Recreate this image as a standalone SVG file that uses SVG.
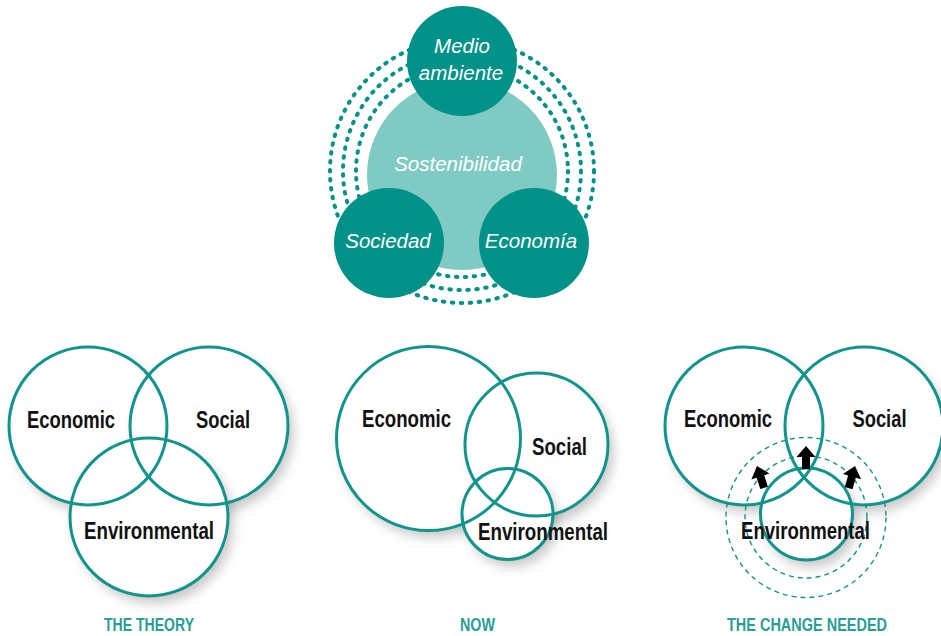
<svg xmlns="http://www.w3.org/2000/svg" xmlns:xlink="http://www.w3.org/1999/xlink" width="941" height="636" viewBox="0 0 941 636">
<defs>
<style>
.ring{fill:none;stroke:#009188;stroke-width:4;stroke-linecap:round;stroke-dasharray:1.5 7.5}
.dark{fill:#009188}
.wt{fill:#fff;font-family:"Liberation Sans",Arial,sans-serif;font-style:italic;font-size:20.5px;text-anchor:middle}
.c{fill:none;stroke:#12948c;stroke-width:3}
.sh{fill:#fff;filter:url(#shadow)}
.lb{fill:#111;font-family:"Liberation Sans",Arial,sans-serif;font-size:23px;font-weight:bold;text-anchor:middle}
.cap{fill:#2a9d96;font-family:"Liberation Sans",Arial,sans-serif;font-size:19px;font-weight:bold;text-anchor:middle}
.dash{fill:none;stroke:#12948c;stroke-width:1.4;stroke-dasharray:5 4}
</style>
<filter id="shadow" x="-30%" y="-30%" width="160%" height="160%">
<feDropShadow dx="5" dy="7" stdDeviation="6" flood-color="#000" flood-opacity="0.22"/>
</filter>
<path id="arr" d="M0,0 L9.5,11 L4,11 L4,23 L-4,23 L-4,11 L-9.5,11 Z" fill="#000"/>
</defs>
<rect width="941" height="636" fill="#fff"/>

<g id="top">
<g id="rings">
<circle class="ring" cx="462" cy="171" r="132"/>
<circle class="ring" cx="462" cy="171" r="119"/>
<circle class="ring" cx="462" cy="171" r="106"/>
</g>
<g id="sostenibilidad">
<circle cx="462" cy="175" r="95" fill="#80cac4"/>
<text class="wt" x="458" y="171">Sostenibilidad</text>
</g>
<g id="medio-ambiente">
<circle class="dark" cx="462" cy="61" r="55"/>
<text class="wt" x="462" y="53">Medio</text>
<text class="wt" x="461" y="80">ambiente</text>
</g>
<g id="sociedad">
<circle class="dark" cx="389" cy="243" r="55"/>
<text class="wt" x="388" y="248">Sociedad</text>
</g>
<g id="economia">
<circle class="dark" cx="534" cy="243" r="55"/>
<text class="wt" x="531" y="248">Economía</text>
</g>
</g>

<g id="theory">
<g id="theory-shadow">
<circle class="sh" cx="88" cy="426" r="79"/>
<circle class="sh" cx="209" cy="426" r="79"/>
<circle class="sh" cx="149" cy="517" r="79"/>
</g>
<g id="theory-economic"><circle class="c" cx="88" cy="426" r="79"/><text class="lb" x="71" y="428" textLength="88" lengthAdjust="spacingAndGlyphs">Economic</text></g>
<g id="theory-social"><circle class="c" cx="209" cy="426" r="79"/><text class="lb" x="223" y="428" textLength="54" lengthAdjust="spacingAndGlyphs">Social</text></g>
<g id="theory-environmental"><circle class="c" cx="149" cy="517" r="79"/><text class="lb" x="149" y="539" textLength="130" lengthAdjust="spacingAndGlyphs">Environmental</text></g>
<text class="cap" x="149" y="631" textLength="90" lengthAdjust="spacingAndGlyphs">THE THEORY</text>
</g>

<g id="now">
<g id="now-shadow">
<circle class="sh" cx="428.5" cy="438.5" r="92"/>
<circle class="sh" cx="536.5" cy="444.5" r="71.5"/>
<circle class="sh" cx="507.5" cy="514" r="45.5"/>
</g>
<g id="now-economic"><circle class="c" cx="428.5" cy="438.5" r="92"/><text class="lb" x="406.5" y="427" textLength="89" lengthAdjust="spacingAndGlyphs">Economic</text></g>
<g id="now-social"><circle class="c" cx="536.5" cy="444.5" r="71.5"/><text class="lb" x="559.5" y="455" textLength="55" lengthAdjust="spacingAndGlyphs">Social</text></g>
<g id="now-environmental"><circle class="c" cx="507.5" cy="514" r="45.5"/><text class="lb" x="543" y="540" textLength="130" lengthAdjust="spacingAndGlyphs">Environmental</text></g>
<text class="cap" x="477.5" y="631" textLength="35" lengthAdjust="spacingAndGlyphs">NOW</text>
</g>

<g id="change">
<g id="change-shadow">
<circle class="sh" cx="744" cy="426" r="79"/>
<circle class="sh" cx="864" cy="426" r="79"/>
<circle class="sh" cx="806.5" cy="514" r="46"/>
</g>
<g id="change-dashed">
<circle class="dash" cx="806" cy="517.5" r="80"/>
<circle class="dash" cx="806" cy="517" r="61"/>
</g>
<g id="change-economic"><circle class="c" cx="744" cy="426" r="79"/><text class="lb" x="728" y="427" textLength="88" lengthAdjust="spacingAndGlyphs">Economic</text></g>
<g id="change-social"><circle class="c" cx="864" cy="426" r="79"/><text class="lb" x="879.5" y="427" textLength="54" lengthAdjust="spacingAndGlyphs">Social</text></g>
<g id="change-environmental"><circle class="c" cx="806.5" cy="514" r="46"/><text class="lb" x="805.5" y="539" textLength="129" lengthAdjust="spacingAndGlyphs">Environmental</text></g>
<g id="connectors">
<use xlink:href="#arr" transform="translate(806,446)"/>
<use xlink:href="#arr" transform="translate(757,466) rotate(-18)"/>
<use xlink:href="#arr" transform="translate(855,466) rotate(16)"/>
</g>
<text class="cap" x="807" y="631" textLength="160" lengthAdjust="spacingAndGlyphs">THE CHANGE NEEDED</text>
</g>
</svg>
